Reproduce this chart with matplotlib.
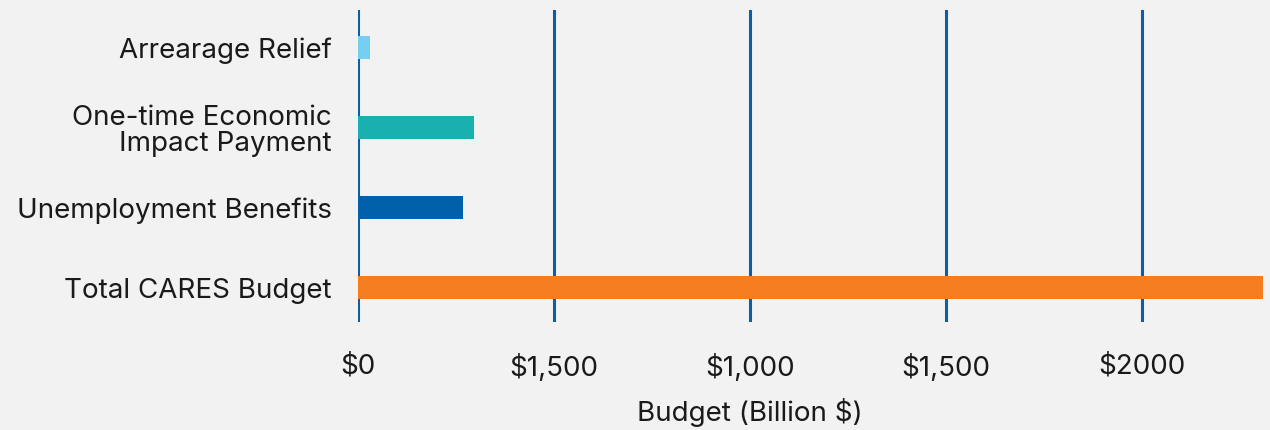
""" Horizontal bar chart of CARES Act budget items """

import matplotlib.pyplot as plt

# data (billion $)
categories = ['Total CARES Budget', 'Unemployment Benefits', 'One-time Economic\nImpact Payment', 'Arrearage Relief']
budget = [2308, 267, 295, 30]
bar_colors = ['#F47D20', '#0060A9', '#1BB0B0', '#76CFF0']

tick_values = [0, 500, 1000, 1500, 2000]
tick_labels = ['$0', '$1,500', '$1,000', '$1,500', '$2000']

bg = '#F2F2F2'
grid_color = '#0A5FA6'
text_color = '#1a1a1a'
fsize = 20

plt.rcParams['font.family'] = ['Inter', 'DejaVu Sans']

fig = plt.figure(figsize=(12.7, 4.3), dpi=100, facecolor=bg)
ax = fig.add_axes([358 / 1270, 108 / 430, 1 - 358 / 1270, 312 / 430])
ax.set_facecolor(bg)

ypos = range(len(categories))
ax.barh(ypos, budget, height=0.29, color=bar_colors, zorder=3)

ax.set_xlim(0, 2327)
ax.set_ylim(-0.43, 3.47)

# vertical grid lines at each tick
ax.set_xticks(tick_values)
ax.set_xticklabels(tick_labels, fontsize=fsize, color=text_color)
ax.xaxis.grid(True, color=grid_color, linewidth=2.2, zorder=1)
ax.set_axisbelow(True)

ax.set_yticks(list(ypos))
ax.set_yticklabels(categories, fontsize=fsize, color=text_color, linespacing=1.0)

ax.tick_params(axis='both', length=0)
ax.tick_params(axis='x', pad=23)
ax.tick_params(axis='y', pad=19)

ax.set_xlabel('Budget (Billion $)', fontsize=fsize, color=text_color)
ax.xaxis.set_label_coords((750 - 358) / (1270 - 358), -0.245)

for s in ax.spines.values():
    s.set_visible(False)

plt.savefig('out.png', dpi=100, facecolor=bg)
